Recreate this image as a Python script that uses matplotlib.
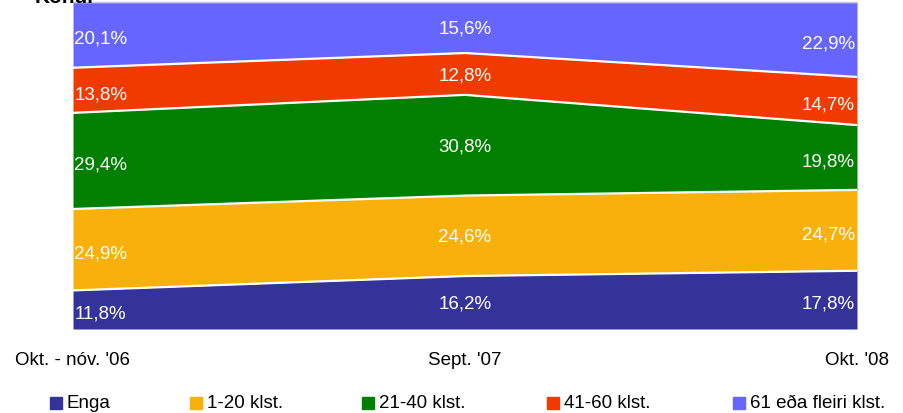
import numpy as np
import matplotlib.pyplot as plt
from matplotlib.patches import Rectangle

plt.rcParams["font.family"] = ["Liberation Sans", "DejaVu Sans"]

# ---------------------------------------------------------
# Data
# ---------------------------------------------------------
periods = ["Okt. - nóv. '06", "Sept. '07", "Okt. '08"]
series = ["Enga", "1-20 klst.", "21-40 klst.", "41-60 klst.", "61 eða fleiri klst."]

enga = [11.8, 16.2, 17.8]
h1_20 = [24.9, 24.6, 24.7]
h21_40 = [29.4, 30.8, 19.8]
h41_60 = [13.8, 12.8, 14.7]
h61 = [20.1, 15.6, 22.9]

colors = ["#333399", "#F7B10A", "#007F00", "#F03A00", "#6666FF"]

values = np.array([enga, h1_20, h21_40, h41_60, h61])
# normalise to 100% stack
shares = values / values.sum(axis=0) * 100
x = np.arange(len(periods))

FS = 13.5

fig = plt.figure(figsize=(9.04, 4.14), dpi=100)
ax = fig.add_axes([73 / 904, 84 / 414, 784 / 904, 327 / 414])

bottom = np.zeros(len(periods))
for vals, share, col in zip(values, shares, colors):
    top = bottom + share
    ax.fill_between(x, bottom, top, color=col, linewidth=0)
    ax.plot(x, top, color="white", linewidth=1.6)
    mid = (bottom + top) / 2 - 1.0
    for i, (v, m) in enumerate(zip(vals, mid)):
        label = f"{v:.1f}%".replace(".", ",")
        if i == 0:
            ax.text(x[i] + 0.003, m, label, ha="left", va="center", color="white", fontsize=FS)
        elif i == len(x) - 1:
            ax.text(x[i] - 0.005, m, label, ha="right", va="center", color="white", fontsize=FS)
        else:
            ax.text(x[i], m + 0.8, label, ha="center", va="center", color="white", fontsize=FS)
    bottom = top

ax.set_xlim(0, 2)
ax.set_ylim(0, 100)
ax.set_yticks([])
ax.set_xticks(x)
ax.set_xticklabels(periods, fontsize=FS)
ax.tick_params(axis="x", length=0, pad=16)
for s in ["left", "right", "bottom"]:
    ax.spines[s].set_visible(False)
ax.spines["top"].set_color("#C8C8E0")
ax.spines["top"].set_linewidth(1)

# title, mostly cut off at the top edge (as in the source image)
fig.text(35 / 904, 411 / 414, "Konur", fontsize=15, fontweight="bold", va="baseline", ha="left")

# legend
legend_x = [50, 190, 362, 547, 733]
for lx, name, col in zip(legend_x, series, colors):
    fig.patches.append(Rectangle((lx / 904, 4 / 414), 12 / 904, 12 / 414,
                                 transform=fig.transFigure, color=col))
    fig.text((lx + 17) / 904, 10 / 414, name, fontsize=FS, va="center", ha="left")

plt.savefig("out.png", dpi=100)
